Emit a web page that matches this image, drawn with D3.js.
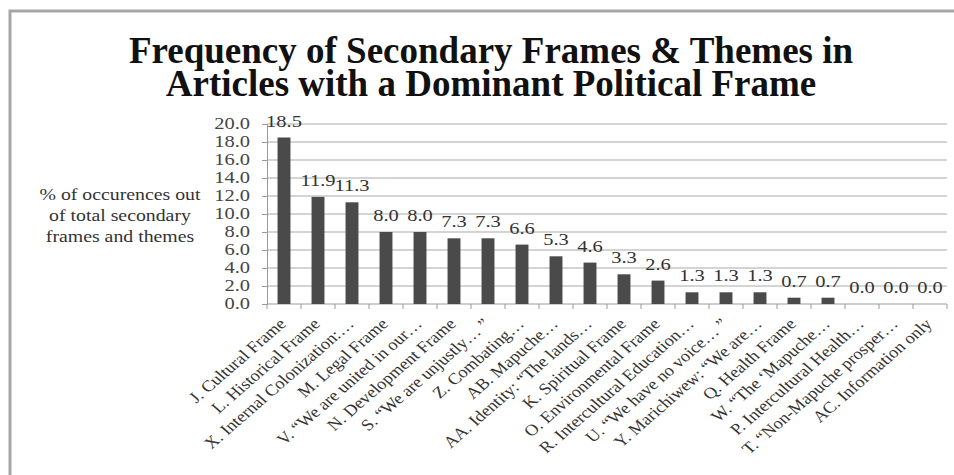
<!DOCTYPE html>
<html>
<head>
<meta charset="utf-8">
<script src="https://cdn.jsdelivr.net/npm/d3@7"></script>
<style>
  html, body { margin: 0; padding: 0; background: #fff; overflow: hidden; }
  svg { display: block; }
  text { font-family: "Liberation Serif", "Times New Roman", serif; }
</style>
</head>
<body>
<svg id="chart" width="954" height="475"></svg>
<script>
// Secondary frames and themes, sorted by frequency
const categories = [
  "J. Cultural Frame",
  "L. Historical Frame",
  "X. Internal Colonization:…",
  "M. Legal Frame",
  "V. \u201CWe are united in our…",
  "N. Development Frame",
  "S. \u201CWe are unjustly…  \u201D",
  "Z. Combating…",
  "AB. Mapuche…",
  "AA. Identity: \u201CThe lands…",
  "K. Spiritual Frame",
  "O. Environmental Frame",
  "R. Intercultural Education…",
  "U. \u201CWe have no voice…  \u201D",
  "Y. Marichiwew: \u201CWe are…",
  "Q. Health Frame",
  "W. \u201CThe \u2018Mapuche…",
  "P. Intercultural Health…",
  "T. \u201CNon-Mapuche prosper…",
  "AC. Information only"
];
const values = [18.5, 11.9, 11.3, 8.0, 8.0, 7.3, 7.3, 6.6, 5.3, 4.6, 3.3, 2.6, 1.3, 1.3, 1.3, 0.7, 0.7, 0.0, 0.0, 0.0];
const yTicks = [0, 2, 4, 6, 8, 10, 12, 14, 16, 18, 20];
const titleLines = ["Frequency of Secondary Frames & Themes in", "Articles with a Dominant Political Frame"];
const yTitleLines = ["% of occurences out", "of total secondary", "frames and themes"];

const svg = d3.select("#chart");
const wide = "scale(1.28,1)";   // axis text is set slightly extended

// background
svg.append("rect").attr("width", 954).attr("height", 475).attr("fill", "#fff");

// chart area frame (left and top edges)
svg.append("path")
  .attr("d", "M10,475V11H954")
  .attr("fill", "none")
  .attr("stroke", "#a6a6a6").attr("stroke-width", 3);

// title
svg.append("text")
  .attr("text-anchor", "middle")
  .attr("font-size", 37).attr("font-weight", "bold")
  .attr("fill", "#111")
  .selectAll("tspan").data(titleLines).join("tspan")
  .attr("x", 491).attr("y", (d, i) => 63 + i * 33)
  .text(d => d);

const x0 = 267, x1 = 947, yTop = 124, yBot = 304;
const x = d3.scaleBand().domain(categories).range([x0, x1]).paddingInner(0.62).paddingOuter(0.31);
const xEdge = d3.scaleBand().domain(categories).range([x0, x1]);
const y = d3.scaleLinear().domain([0, 20]).range([yBot, yTop]);

// gridlines
svg.append("g").selectAll("line").data(yTicks.filter(t => t > 0)).join("line")
  .attr("x1", x0).attr("x2", x1)
  .attr("y1", d => y(d)).attr("y2", d => y(d))
  .attr("stroke", "#c6c6c6").attr("stroke-width", 1.5);

// y axis line and ticks
const yAxis = svg.append("g").attr("transform", `translate(${x0},0)`)
  .call(d3.axisLeft(y).tickValues(yTicks).tickFormat("").tickSize(5));
yAxis.select(".domain").attr("stroke", "#9a9a9a");
yAxis.selectAll(".tick line").attr("stroke", "#9a9a9a");

// y tick labels
svg.append("g").selectAll("text").data(yTicks).join("text")
  .attr("transform", d => `translate(250,${y(d)}) ${wide}`)
  .attr("dy", "0.34em")
  .attr("text-anchor", "end")
  .attr("font-size", 16).attr("fill", "#444")
  .text(d3.format(".1f"));

// x axis baseline and category ticks
const xg = svg.append("g");
xg.append("line").attr("x1", x0).attr("x2", x1).attr("y1", yBot).attr("y2", yBot)
  .attr("stroke", "#9a9a9a").attr("stroke-width", 1);
xg.selectAll("line.tk").data(categories.concat(["__end"])).join("line")
  .attr("class", "tk")
  .attr("x1", (d, i) => i < categories.length ? xEdge(d) : x1)
  .attr("x2", (d, i) => i < categories.length ? xEdge(d) : x1)
  .attr("y1", yBot).attr("y2", yBot + 5)
  .attr("stroke", "#9a9a9a");

// bars
svg.append("g").selectAll("rect").data(values).join("rect")
  .attr("x", (d, i) => x(categories[i]))
  .attr("width", x.bandwidth())
  .attr("y", d => y(d))
  .attr("height", d => yBot - y(d))
  .attr("fill", "#4a4a4a");

// value labels
svg.append("g").selectAll("text").data(values).join("text")
  .attr("transform", (d, i) => `translate(${x(categories[i]) + x.bandwidth() / 2},${y(d) - 11}) ${wide}`)
  .attr("text-anchor", "middle")
  .attr("font-size", 16).attr("fill", "#333")
  .text(d => d.toFixed(1));

// category labels, rotated
svg.append("g").selectAll("text").data(categories).join("text")
  .attr("transform", d => `translate(${x(d) + x.bandwidth() / 2 + 3},${yBot + 21}) scale(1.15,1) rotate(-45)`)
  .attr("text-anchor", "end")
  .attr("font-size", 16).attr("fill", "#333")
  .text(d => d);

// y axis title
svg.append("text")
  .attr("transform", `translate(120,0) scale(1.2,1)`)
  .attr("text-anchor", "middle")
  .attr("font-size", 16.5).attr("fill", "#333")
  .selectAll("tspan").data(yTitleLines).join("tspan")
  .attr("x", 0).attr("y", (d, i) => 200 + i * 21)
  .text(d => d);
</script>
</body>
</html>
